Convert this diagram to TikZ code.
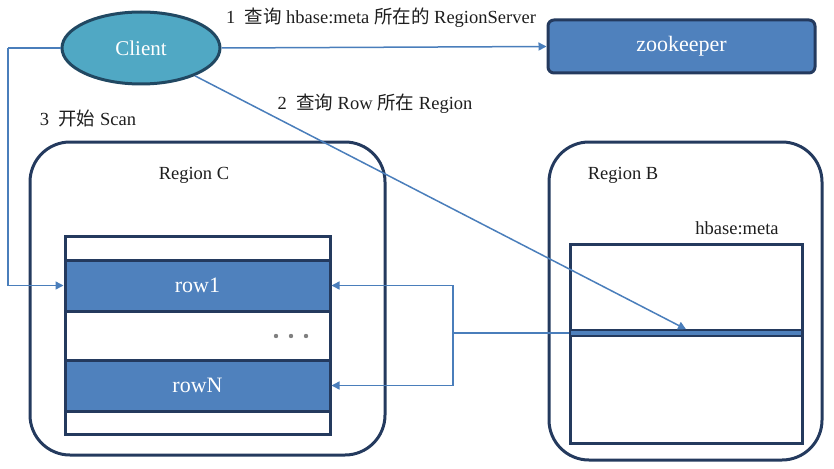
\documentclass[tikz,border=0pt]{standalone}
\usepackage{fontspec}
\setmainfont{Liberation Serif}
\newfontfamily\cjk{Noto Sans CJK SC}
\usetikzlibrary{arrows.meta,shapes.geometric}
\definecolor{navy}{RGB}{36,58,94}
\definecolor{tealdark}{RGB}{33,72,98}
\definecolor{boxblue}{RGB}{79,129,189}
\definecolor{conn}{RGB}{74,126,187}
\definecolor{teal}{RGB}{80,168,196}
\definecolor{txt}{RGB}{30,30,30}
\tikzset{
  tbl/.style={draw=navy,line width=3pt,fill=white,inner sep=0pt},
  rowbox/.style={draw=navy,line width=3pt,fill=boxblue,inner sep=0pt,minimum width=265pt,minimum height=51pt,text=white,font=\fontsize{22}{24}\selectfont},
  lbl/.style={text=txt,font=\fontsize{18.5}{20}\selectfont,inner sep=0pt},
  link/.style={draw=conn,line width=1.5pt},
  arr/.style={link,-{Triangle[width=8pt,length=8pt]}},
}
\begin{document}
\begin{tikzpicture}[x=1pt,y=-1pt]
\useasboundingbox (0,0) rectangle (834,468);
% Regions
\node[draw=navy,line width=3pt,rounded corners=40pt,minimum width=355pt,minimum height=313pt,inner sep=0pt] (regC) at (207.5,298.5) {};
\node[draw=navy,line width=3pt,rounded corners=40pt,minimum width=273pt,minimum height=318pt,inner sep=0pt] (regB) at (685.5,301) {};
\node[lbl] (labC) at (194,175) {Region C};
\node[lbl] (labB) at (623,175) {Region B};
\node[lbl] (labM) at (737,228) {hbase:meta};
% table C
\node[tbl,minimum width=265pt,minimum height=198pt] (tabC) at (197.5,335) {};
\node[rowbox] (row1) at (197.5,285.5) {row1};
\node[rowbox] (rowN) at (197.5,385.5) {rowN};
\foreach \x in {276,291,306} \fill[gray] (\x,336) circle (2.2pt);
% table B
\node[tbl,minimum width=232pt,minimum height=199pt] (tabB) at (686,343.5) {};
\node[draw=navy,line width=1.5pt,fill=boxblue,minimum width=232pt,minimum height=6pt,inner sep=0pt] (sep) at (686,333) {};
% client & zookeeper
\node[ellipse,draw=tealdark,line width=3pt,fill=teal,minimum width=158pt,minimum height=72pt,inner sep=0pt,text=white,font=\fontsize{21}{24}\selectfont] (client) at (141,48) {Client};
\node[draw=navy,line width=3pt,fill=boxblue,rounded corners=6pt,minimum width=267pt,minimum height=53pt,inner sep=0pt,text=white,font=\fontsize{22}{24}\selectfont] (zk) at (681.5,46.5) {zookeeper};
% labels
\node[lbl] (l1) at (381,18) {1\ \ {\cjk 查询} hbase:meta {\cjk 所在的} RegionServer};
\node[lbl] (l2) at (375,104) {2\ \ {\cjk 查询} Row {\cjk 所在} Region};
\node[lbl] (l3) at (88,118) {3\ \ {\cjk 开始} Scan};
% connectors
\coordinate (c3) at (8,48);
\coordinate (jn) at (453,333);
\draw[arr] (client.east) -- (zk.west);
\draw[arr] (client) -- (sep.north);
\draw[link] (client.west) -- (c3);
\draw[arr] (c3) |- (row1.west);
\draw[link] (sep.west) -- (jn);
\draw[arr] (jn) |- (row1.east);
\draw[arr] (jn) |- (rowN.east);
\end{tikzpicture}
\end{document}
